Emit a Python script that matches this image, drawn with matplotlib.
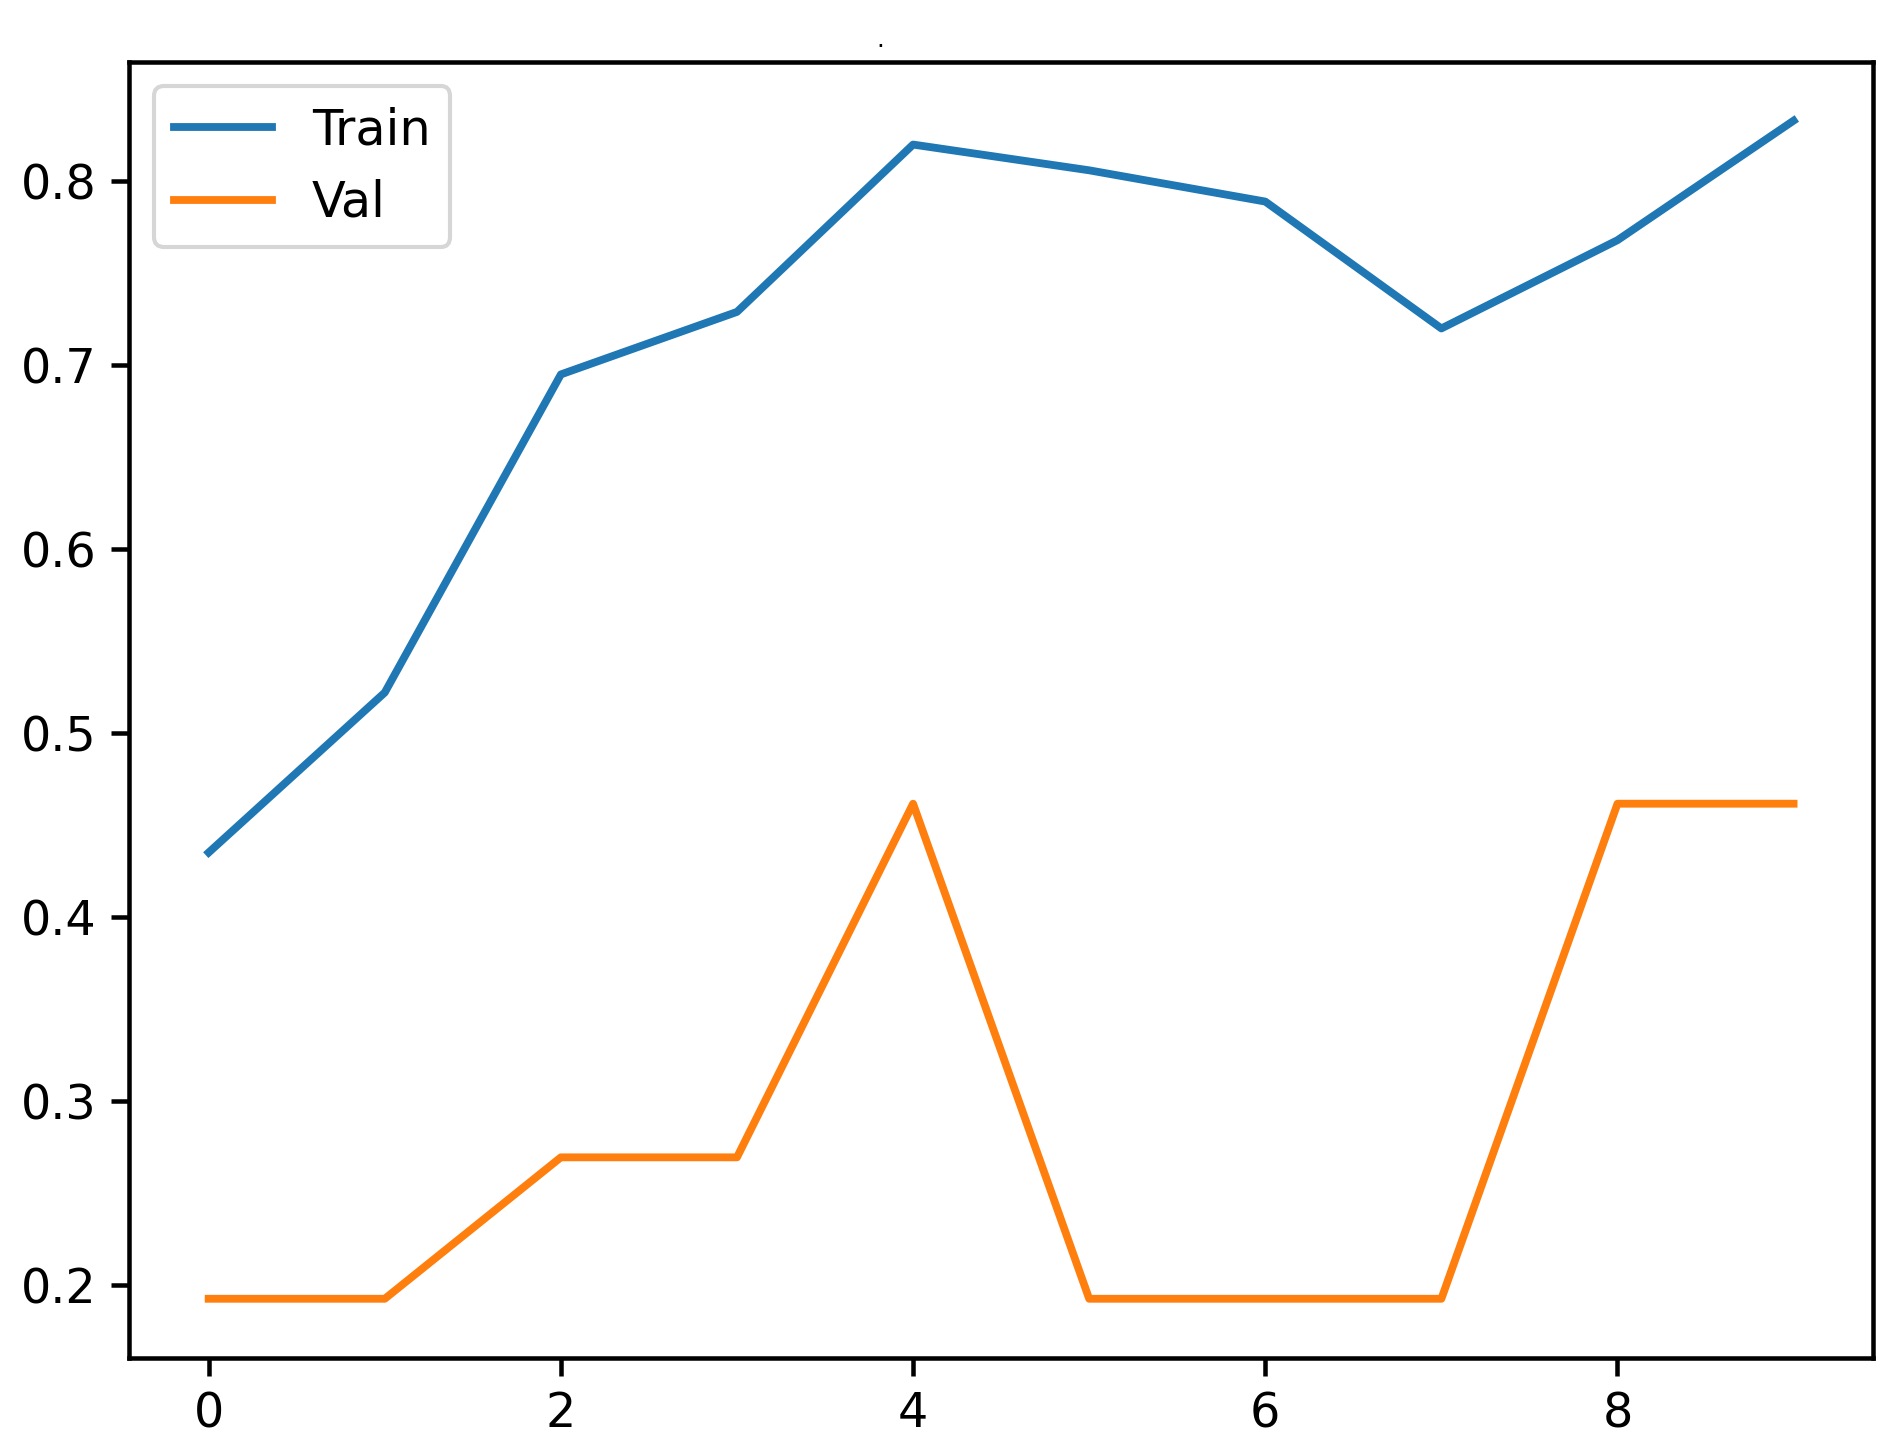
import matplotlib
matplotlib.use("Agg")
import matplotlib.pyplot as plt

# accuracy per epoch
epochs = list(range(10))
train_acc = [0.435, 0.522, 0.695, 0.729, 0.820, 0.806, 0.789, 0.720, 0.768, 0.833]
val_acc = [5/26, 5/26, 7/26, 7/26, 12/26, 5/26, 5/26, 5/26, 12/26, 12/26]

DPI = 296
fig = plt.figure(figsize=(1895 / DPI, 1453 / DPI), dpi=DPI)
ax = fig.add_axes([0.0683, 0.0656, 0.92, 0.8919])

ax.plot(epochs, train_acc, lw=1.9, label="Train")
ax.plot(epochs, val_acc, lw=1.9, label="Val")
ax.legend(loc="upper left", fontsize=12)
ax.tick_params(labelsize=11.6, length=4.4, width=1.1)
for s in ax.spines.values():
    s.set_linewidth(1.1)

# stray title mark at the top
fig.text(880 / 1895, 1 - 40 / 1453, ".", fontsize=6, ha="center", va="center")

fig.savefig("out.png", dpi=DPI)
